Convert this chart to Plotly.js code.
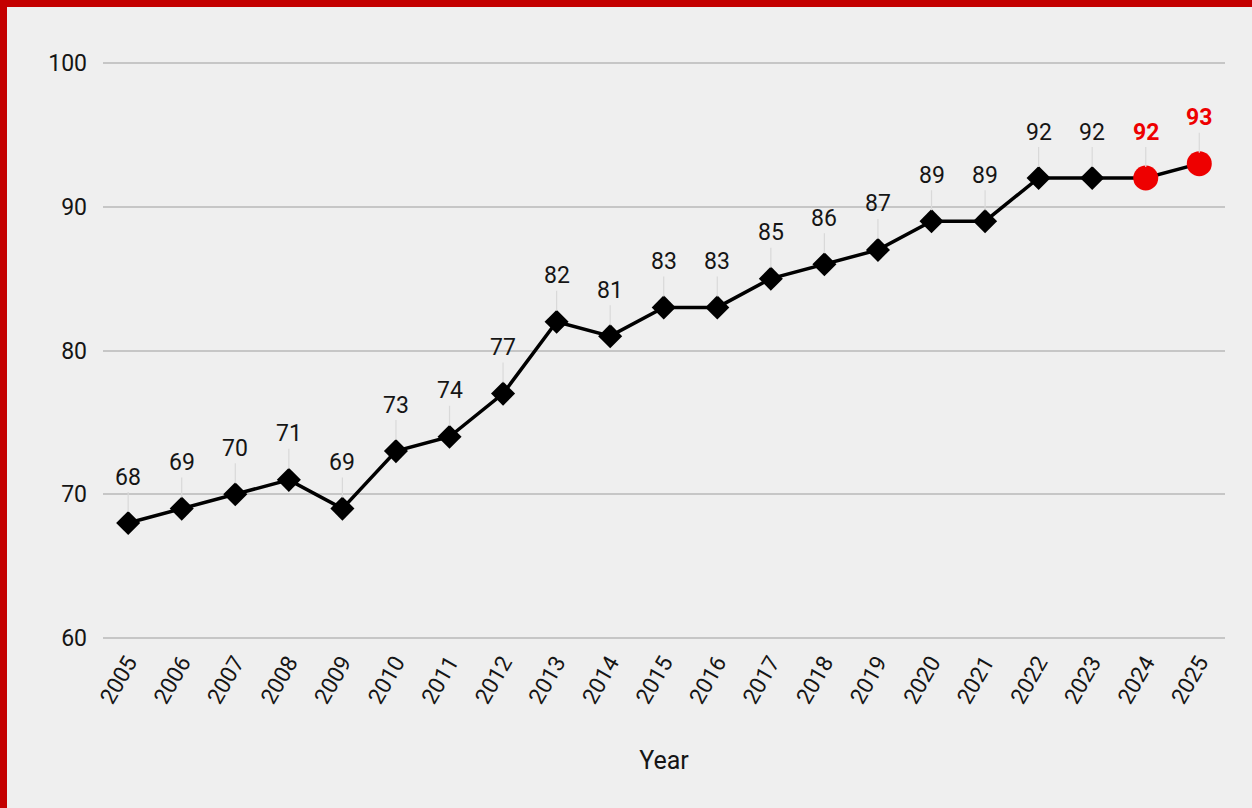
<!DOCTYPE html>
<html>
<head>
<meta charset="utf-8">
<script src="https://cdn.plot.ly/plotly-3.0.1.min.js"></script>
<style>
  html, body { margin: 0; padding: 0; background: #c40000; width: 1252px; height: 808px; overflow: hidden; }
  #chart { position: absolute; left: 7px; top: 7px; width: 1245px; height: 801px; }
</style>
</head>
<body>
<div id="chart"></div>
<script>
const years = ['2005','2006','2007','2008','2009','2010','2011','2012','2013','2014','2015','2016','2017','2018','2019','2020','2021','2022','2023','2024','2025'];
const values = [68,69,70,71,69,73,74,77,82,81,83,83,85,86,87,89,89,92,92,92,93];
const highlighted = [false,false,false,false,false,false,false,false,false,false,false,false,false,false,false,false,false,false,false,true,true];
const yTicks = [60,70,80,90,100];

const FONT = 'Roboto, Arial, sans-serif';
const RED = '#ee0000';
const INK = '#151515';

const trace = {
  x: years,
  y: values,
  type: 'scatter',
  mode: 'lines+markers',
  line: { color: '#000000', width: 3.5 },
  marker: {
    symbol: highlighted.map(h => h ? 'circle' : 'diamond'),
    size: highlighted.map(h => h ? 25 : 18.5),
    color: highlighted.map(h => h ? RED : '#000000'),
    opacity: 1,
    line: { width: 0 }
  },
  hoverinfo: 'x+y',
  cliponaxis: false
};

const annotations = years.map((yr, i) => ({
  x: i,
  y: values[i],
  xref: 'x',
  yref: 'y',
  text: highlighted[i] ? '<b>' + values[i] + '</b>' : String(values[i]),
  showarrow: true,
  arrowhead: 0,
  arrowwidth: 1.2,
  arrowcolor: '#d9d9d9',
  ax: 0,
  ay: -46,
  standoff: 11,
  font: { family: FONT, size: 23, color: highlighted[i] ? RED : INK }
}));

const layout = {
  width: 1245,
  height: 801,
  paper_bgcolor: '#efefef',
  plot_bgcolor: '#efefef',
  margin: { l: 96, r: 27, t: 55, b: 169 },
  showlegend: false,
  font: { family: FONT, size: 23, color: INK },
  xaxis: {
    type: 'category',
    range: [-0.47, 20.48],
    tickangle: -60,
    showgrid: false,
    zeroline: false,
    showline: false,
    ticks: '',
    ticklabelstandoff: 5,
    tickfont: { family: FONT, size: 22.5, color: INK },
    title: { text: 'Year', font: { family: FONT, size: 25, color: INK }, standoff: 44 }
  },
  yaxis: {
    range: [59.93, 100.07],
    tickvals: yTicks,
    ticktext: yTicks.map(String),
    showgrid: true,
    gridcolor: '#c6c6c6',
    gridwidth: 1.8,
    zeroline: false,
    showline: false,
    ticks: '',
    ticklabelstandoff: 15,
    tickfont: { family: FONT, size: 23, color: INK }
  },
  annotations: annotations
};

Plotly.newPlot('chart', [trace], layout, { displayModeBar: false });
</script>
</body>
</html>
